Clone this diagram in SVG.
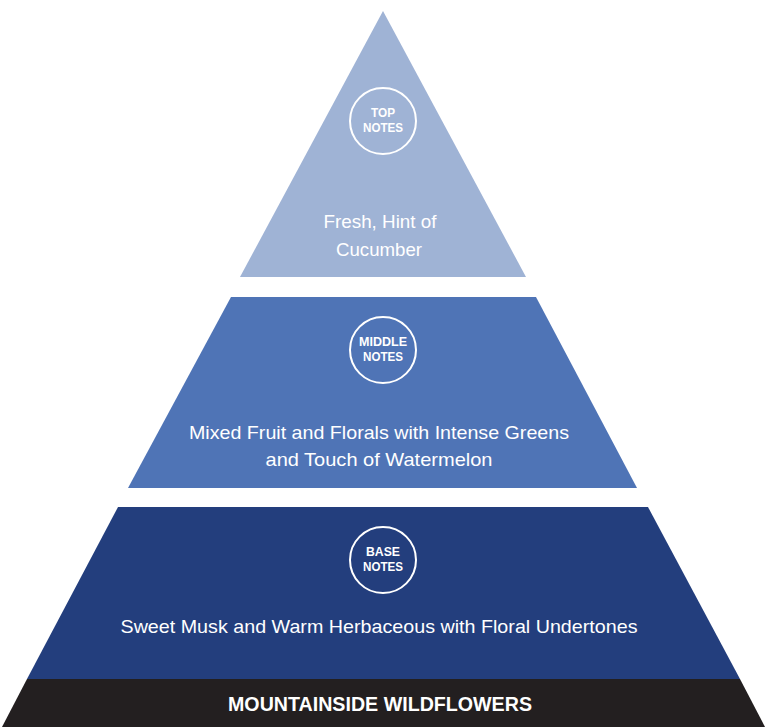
<svg xmlns="http://www.w3.org/2000/svg" width="765" height="727" viewBox="0 0 765 727">
<style>
.c{fill:none;stroke:#fff;stroke-width:2}
.l{font-family:"Liberation Sans",Arial,sans-serif;font-weight:bold;font-size:12px;fill:#fff;text-anchor:middle}
.t{font-family:"Liberation Sans",Arial,sans-serif;font-size:19px;fill:#fff;text-anchor:middle}
</style>
<rect width="765" height="727" fill="#fff"/>
<g id="top">
<polygon points="383,11 526,277 240,277" fill="#9fb3d5"/>
<circle class="c" cx="383" cy="121" r="33"/>
<text class="l" x="383" y="117" textLength="24" lengthAdjust="spacingAndGlyphs">TOP</text>
<text class="l" x="383" y="132" textLength="40" lengthAdjust="spacingAndGlyphs">NOTES</text>
<text class="t" x="380" y="228" textLength="113" lengthAdjust="spacingAndGlyphs">Fresh, Hint of</text>
<text class="t" x="379" y="256" textLength="86" lengthAdjust="spacingAndGlyphs">Cucumber</text>
</g>
<g id="middle">
<polygon points="231,297 536,297 637,488 128,488" fill="#4f74b6"/>
<circle class="c" cx="383" cy="350" r="33"/>
<text class="l" x="383" y="346" textLength="48" lengthAdjust="spacingAndGlyphs">MIDDLE</text>
<text class="l" x="383" y="361" textLength="40" lengthAdjust="spacingAndGlyphs">NOTES</text>
<text class="t" x="379" y="439" textLength="380" lengthAdjust="spacingAndGlyphs">Mixed Fruit and Florals with Intense Greens</text>
<text class="t" x="379" y="466" textLength="227" lengthAdjust="spacingAndGlyphs">and Touch of Watermelon</text>
</g>
<g id="base">
<polygon points="118,507 648,507 740,679 27,679" fill="#233e7d"/>
<circle class="c" cx="383" cy="560" r="33"/>
<text class="l" x="383" y="556" textLength="34" lengthAdjust="spacingAndGlyphs">BASE</text>
<text class="l" x="383" y="571" textLength="40" lengthAdjust="spacingAndGlyphs">NOTES</text>
<text class="t" x="379" y="633" textLength="517" lengthAdjust="spacingAndGlyphs">Sweet Musk and Warm Herbaceous with Floral Undertones</text>
</g>
<g id="title">
<polygon points="27,679 740,679 765,727 2,727" fill="#231f20"/>
<text x="380" y="711" font-family="Liberation Sans,Arial,sans-serif" font-weight="bold" font-size="20" fill="#fff" text-anchor="middle" textLength="304" lengthAdjust="spacingAndGlyphs">MOUNTAINSIDE WILDFLOWERS</text>
</g>
<g id="connectors"/>
</svg>
